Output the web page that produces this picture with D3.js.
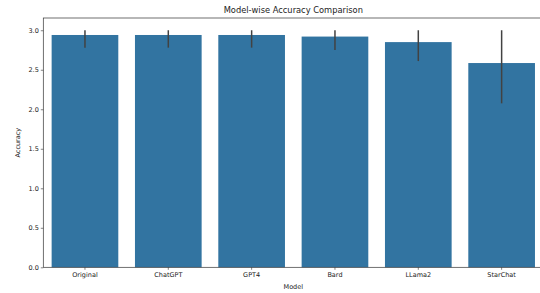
<!DOCTYPE html>
<html lang="en">
<head>
<meta charset="UTF-8">
<title>Model-wise Accuracy Comparison</title>
<script src="https://d3js.org/d3.v7.min.js"></script>
<style>
  body { margin: 0; background: #fff; }
  svg { display: block; font-family: "DejaVu Sans", sans-serif; }
</style>
</head>
<body>
<svg width="540" height="293"></svg>
<script>
// chart data
const models = ["Original", "ChatGPT", "GPT4", "Bard", "LLama2", "StarChat"];
const accuracy = [2.94, 2.94, 2.94, 2.92, 2.85, 2.585];
const ciLow = [2.78, 2.78, 2.78, 2.75, 2.61, 2.075];
const ciHigh = [3.0, 3.0, 3.0, 3.0, 3.0, 3.0];
const yTicks = [0, 0.5, 1.0, 1.5, 2.0, 2.5, 3.0];

const svg = d3.select("svg");
const mLeft = 43.3, mRight = 543.3, mTop = 18, mBottom = 267.3;

const x = d3.scaleBand().domain(models).range([mLeft, mRight]).paddingInner(0.2).paddingOuter(0.1);
const y = d3.scaleLinear().domain([0, 3.155]).range([mBottom, mTop]);

// bars
svg.selectAll("rect.bar")
  .data(models)
  .enter().append("rect")
  .attr("class", "bar")
  .attr("x", d => x(d))
  .attr("width", x.bandwidth())
  .attr("y", (d, i) => y(accuracy[i]))
  .attr("height", (d, i) => y(0) - y(accuracy[i]))
  .attr("fill", "#3274a1");

// error bars
svg.selectAll("line.err")
  .data(models)
  .enter().append("line")
  .attr("class", "err")
  .attr("x1", d => x(d) + x.bandwidth() / 2)
  .attr("x2", d => x(d) + x.bandwidth() / 2)
  .attr("y1", (d, i) => y(ciLow[i]))
  .attr("y2", (d, i) => y(ciHigh[i]))
  .attr("stroke", "#424242")
  .attr("stroke-width", 1.5);

// axes
const yAxis = svg.append("g")
  .attr("transform", `translate(${mLeft},0)`)
  .call(d3.axisLeft(y).tickValues(yTicks).tickFormat(d3.format(".1f")).tickSize(2.5).tickPadding(2));
const xAxis = svg.append("g")
  .attr("transform", `translate(0,${mBottom})`)
  .call(d3.axisBottom(x).tickSize(2.5).tickPadding(3));

[yAxis, xAxis].forEach(g => {
  g.select(".domain").remove();
  g.selectAll("line").attr("stroke", "#333").attr("stroke-width", 0.6);
  g.selectAll("text").attr("fill", "#222").style("font-size", "6.5px").style("font-family", "DejaVu Sans, sans-serif");
});

// spines
svg.append("rect")
  .attr("x", mLeft).attr("y", mTop)
  .attr("width", mRight - mLeft).attr("height", mBottom - mTop)
  .attr("fill", "none").attr("stroke", "#333").attr("stroke-width", 0.7);

// labels
svg.append("text")
  .attr("x", (mLeft + mRight) / 2).attr("y", 13)
  .attr("text-anchor", "middle")
  .style("font-size", "8.3px").attr("fill", "#222")
  .text("Model-wise Accuracy Comparison");

svg.append("text")
  .attr("x", (mLeft + mRight) / 2).attr("y", 289)
  .attr("text-anchor", "middle")
  .style("font-size", "6.5px").attr("fill", "#222")
  .text("Model");

svg.append("text")
  .attr("transform", `translate(20,${(mTop + mBottom) / 2}) rotate(-90)`)
  .attr("text-anchor", "middle")
  .style("font-size", "6.5px").attr("fill", "#222")
  .text("Accuracy");
</script>
</body>
</html>
